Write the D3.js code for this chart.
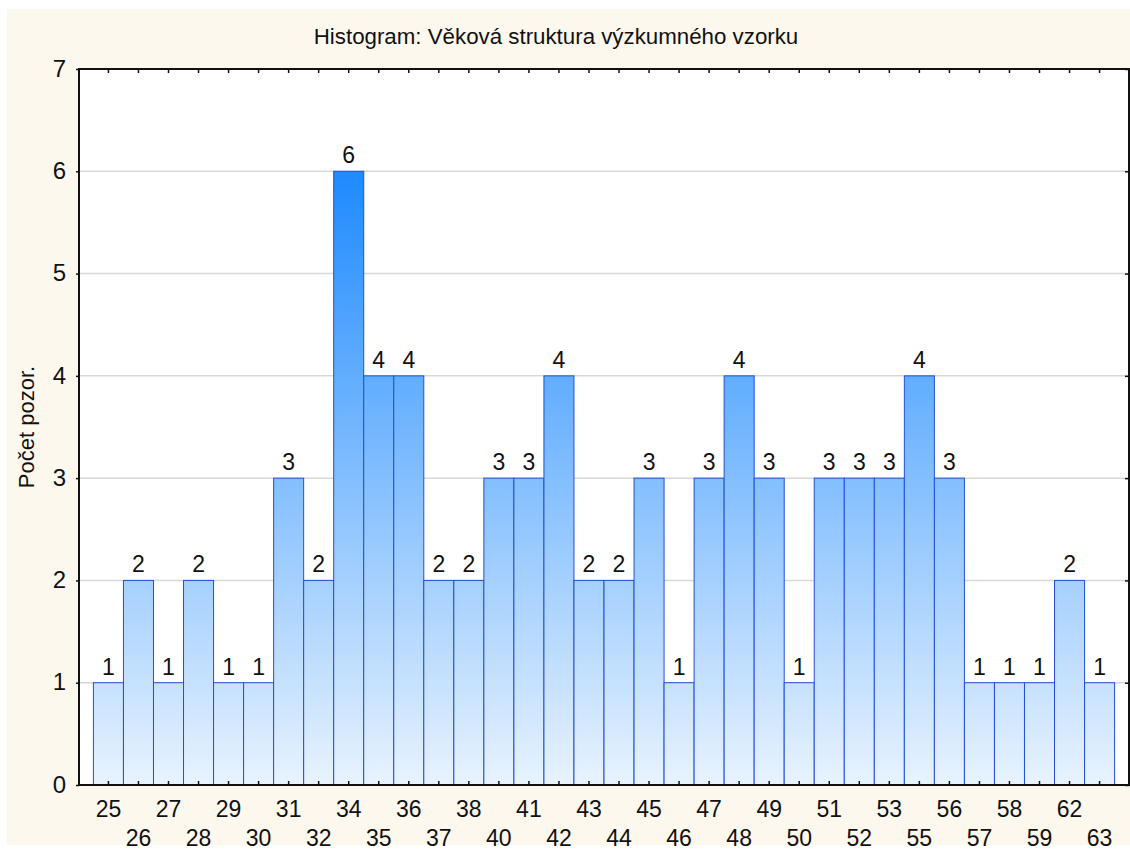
<!DOCTYPE html>
<html>
<head>
<meta charset="utf-8">
<script src="https://cdn.jsdelivr.net/npm/d3@7"></script>
<style>
  body { margin: 0; background: #fff; }
  svg text { font-family: "Liberation Sans", Arial, sans-serif; fill: #111; }
</style>
</head>
<body>
<svg id="chart" width="1130" height="852"></svg>
<script>
const ages = ["25","26","27","28","29","30","31","32","34","35","36","37","38","40","41","42","43","44","45","46","47","48","49","50","51","52","53","55","56","57","58","59","62","63"];
const counts = [1,2,1,2,1,1,3,2,6,4,4,2,2,3,3,4,2,2,3,1,3,4,3,1,3,3,3,4,3,1,1,1,2,1];
const yTicks = [0,1,2,3,4,5,6,7];

const svg = d3.select("#chart");
const plotLeft = 79, plotRight = 1129, plotTop = 69, plotBottom = 785;

// cream page background
svg.append("rect")
  .attr("x", 7).attr("y", 9).attr("width", 1123).attr("height", 836)
  .attr("fill", "#fdf8ee");

const x = d3.scaleBand().domain(ages).range([plotLeft, plotRight]).paddingInner(0).paddingOuter(0.48);
const y = d3.scaleLinear().domain([0, 7]).range([plotBottom, plotTop]);

const defs = svg.append("defs");
const grad = defs.append("linearGradient")
  .attr("id", "barGrad")
  .attr("gradientUnits", "userSpaceOnUse")
  .attr("x1", 0).attr("x2", 0)
  .attr("y1", y(6)).attr("y2", y(0));
grad.append("stop").attr("offset", "0%").attr("stop-color", "#1e8aff");
grad.append("stop").attr("offset", "100%").attr("stop-color", "#e8f3fe");

// plot area
svg.append("rect")
  .attr("x", plotLeft).attr("y", plotTop).attr("width", plotRight - plotLeft).attr("height", plotBottom - plotTop)
  .attr("fill", "#fff");

// gridlines
svg.append("g")
  .selectAll("line")
  .data(yTicks.filter(d => d > 0 && d < 7))
  .join("line")
  .attr("x1", plotLeft).attr("x2", plotRight)
  .attr("y1", d => y(d)).attr("y2", d => y(d))
  .attr("stroke", "#d8d8d8").attr("stroke-width", 1.5);

// bars
svg.append("g")
  .selectAll("rect")
  .data(counts)
  .join("rect")
  .attr("x", (d, i) => x(ages[i]))
  .attr("y", d => y(d))
  .attr("width", x.bandwidth())
  .attr("height", d => y(0) - y(d))
  .attr("fill", "url(#barGrad)")
  .attr("stroke", "#2050d8")
  .attr("stroke-width", 1);

// value labels
svg.append("g")
  .selectAll("text")
  .data(counts)
  .join("text")
  .attr("x", (d, i) => x(ages[i]) + x.bandwidth() / 2)
  .attr("y", d => y(d) - 8)
  .attr("text-anchor", "middle")
  .style("font-size", "23px")
  .text(d => d);

// axes
const xBottom = svg.append("g")
  .attr("transform", `translate(0,${plotBottom})`)
  .call(d3.axisBottom(x).tickSizeInner(-4).tickSizeOuter(0).tickPadding(16));
xBottom.selectAll("text")
  .style("font-size", "23px")
  .attr("dy", (d, i) => i % 2 ? "1.97em" : "0.71em");

svg.append("g")
  .attr("transform", `translate(0,${plotTop})`)
  .call(d3.axisTop(x).tickSizeInner(-4).tickSizeOuter(0).tickFormat(""));

const yLeft = svg.append("g")
  .attr("transform", `translate(${plotLeft},0)`)
  .call(d3.axisLeft(y).tickValues(yTicks).tickFormat(d3.format("d"))
    .tickSizeInner(3).tickSizeOuter(0).tickPadding(10));
yLeft.selectAll("text").style("font-size", "24px").attr("dy", "0.3em");

svg.append("g")
  .attr("transform", `translate(${plotRight},0)`)
  .call(d3.axisRight(y).tickValues(yTicks).tickSizeInner(-4).tickSizeOuter(0).tickFormat(""));

svg.selectAll(".domain").remove();
svg.selectAll(".tick line").attr("stroke", "#111").attr("stroke-width", 1.5);

// frame
svg.append("rect")
  .attr("x", plotLeft).attr("y", plotTop).attr("width", plotRight - plotLeft).attr("height", plotBottom - plotTop)
  .attr("fill", "none").attr("stroke", "#111").attr("stroke-width", 2);

// title
svg.append("text")
  .attr("x", 556).attr("y", 44)
  .attr("text-anchor", "middle")
  .style("font-size", "22.3px")
  .text("Histogram: Věková struktura výzkumného vzorku");

// y title
svg.append("text")
  .attr("transform", "translate(34,427) rotate(-90)")
  .attr("text-anchor", "middle")
  .style("font-size", "22px")
  .text("Počet pozor.");
</script>
</body>
</html>
